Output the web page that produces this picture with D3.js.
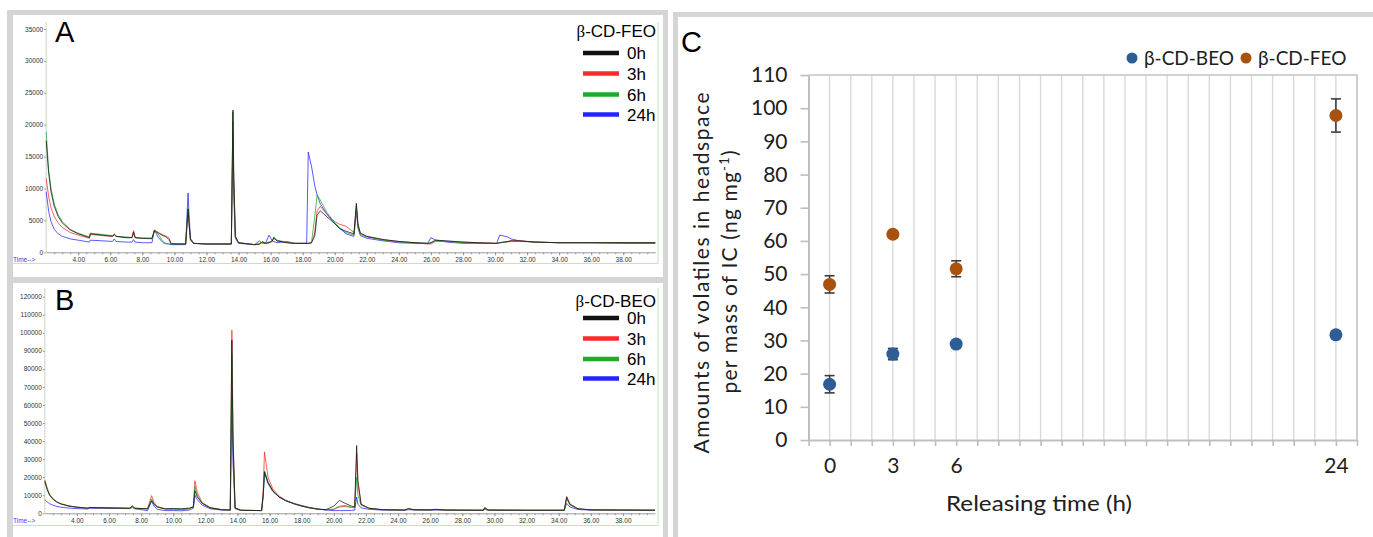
<!DOCTYPE html>
<html lang="en">
  <head>
    <meta charset="utf-8">
    <script type="text/javascript" src="https://d3js.org/d3.v7.min.js"></script>
    <style>
      body { margin: 0; background: #ffffff; }
    </style>
  </head>
  <body>
    <script type="text/javascript">

    // ---- Panel A: beta-CD-FEO headspace chromatograms (time in min, abundance) ----
    var timeA = [2.00, 2.15, 2.30, 2.50, 2.75, 3.00, 3.50, 4.00, 4.70, 4.75,
                 5.50, 6.15, 6.25, 6.35, 7.00, 7.35, 7.45, 7.55, 8.00, 8.60,
                 8.75, 9.00, 9.30, 9.50, 9.65, 9.80, 10.70, 10.85, 10.90, 11.00,
                 11.20, 12.00, 13.55, 13.65, 13.70, 13.80, 14.00, 15.00, 15.30, 15.50,
                 15.70, 15.90, 16.10, 16.20, 16.40, 17.00, 17.50, 18.25, 18.35, 18.55,
                 18.75, 18.90, 19.10, 19.50, 20.00, 20.30, 20.70, 21.20, 21.35, 21.45,
                 21.60, 22.00, 23.00, 24.00, 25.00, 25.80, 26.00, 26.30, 27.00, 28.00,
                 29.00, 30.10, 30.30, 30.80, 31.00, 31.50, 32.50, 34.00, 36.00, 38.00, 40.00];
    var feo0h = [17500, 12500, 9500, 7200, 5600, 4600, 3500, 2900, 2300, 2900,
                 2700, 2500, 2800, 2500, 2300, 2300, 3200, 2300, 2200, 2200,
                 3400, 3000, 2600, 2400, 2000, 1300, 1300, 6800, 5000, 2000,
                 1400, 1300, 1300, 22300, 12000, 2500, 1500, 1200, 1300, 1600,
                 1400, 1500, 1700, 2300, 1800, 1500, 1400, 1400, 1400, 1500,
                 2500, 5800, 6500, 5600, 4500, 3700, 3300, 2900, 7700, 4500,
                 3000, 2500, 2000, 1700, 1500, 1400, 1500, 1900, 1800, 1600,
                 1500, 1400, 1500, 1700, 1800, 1800, 1600, 1500, 1500, 1500, 1500];
    var feo3h = [11600, 8800, 7000, 5600, 4600, 3900, 3100, 2700, 2200, 2800,
                 2600, 2500, 2900, 2500, 2300, 2300, 3400, 2300, 2200, 2200,
                 3500, 3100, 2700, 2500, 2300, 1400, 1300, 6200, 4500, 1900,
                 1400, 1300, 1300, 20500, 11000, 2400, 1500, 1200, 1300, 1600,
                 1400, 1500, 1800, 2200, 1800, 1500, 1400, 1400, 1400, 1500,
                 3000, 6500, 7200, 6000, 4800, 4400, 4100, 3100, 7300, 4200,
                 3000, 2500, 2000, 1700, 1500, 1300, 1300, 1700, 1700, 1600,
                 1500, 1400, 1500, 1700, 1800, 1800, 1600, 1500, 1500, 1500, 1500];
    var feo6h = [18900, 13000, 10000, 7600, 5900, 4800, 3600, 3000, 2400, 3000,
                 2800, 2600, 2800, 2500, 2400, 2300, 2900, 2300, 2200, 2100,
                 3300, 2800, 1600, 1400, 1300, 1300, 1300, 7000, 5200, 2000,
                 1400, 1300, 1300, 22000, 12000, 2500, 1500, 1200, 1300, 1700,
                 1400, 1600, 1800, 2400, 1900, 1600, 1400, 1400, 1400, 1500,
                 5500, 9000, 8200, 6300, 4600, 3900, 3100, 2700, 7000, 4000,
                 2800, 2400, 1900, 1600, 1500, 1400, 1500, 1900, 1700, 1500,
                 1400, 1400, 1500, 1600, 1700, 1700, 1600, 1500, 1500, 1500, 1500];
    var feo24h = [9500, 6500, 4800, 3600, 2900, 2500, 2100, 1900, 1600, 1900,
                  1800, 1700, 2100, 1700, 1600, 1600, 2000, 1600, 1500, 1500,
                  3500, 2300, 1500, 1300, 1300, 1200, 1200, 9300, 6500, 2200,
                  1400, 1300, 1300, 18500, 9000, 2200, 1400, 1200, 1800, 1400,
                  1500, 2700, 1800, 1700, 1500, 1700, 1400, 1400, 15700, 13500,
                  10500, 9000, 7600, 6000, 4500, 3800, 2900, 2500, 6500, 3800,
                  2600, 2200, 1800, 1500, 1400, 1400, 2300, 1900, 1600, 1400,
                  1400, 1400, 2700, 2400, 2100, 1800, 1600, 1500, 1500, 1400, 1400];

    // ---- Panel B: beta-CD-BEO headspace chromatograms ----
    var timeB = [2.00, 2.15, 2.30, 2.50, 2.75, 3.00, 3.50, 4.00, 4.70, 4.75,
                 6.00, 7.30, 7.45, 7.60, 8.40, 8.65, 8.80, 9.00, 9.50, 10.00,
                 10.50, 11.00, 11.25, 11.35, 11.50, 11.80, 12.30, 13.00, 13.55, 13.65,
                 13.72, 13.85, 14.20, 15.50, 15.60, 15.68, 15.90, 16.20, 16.60, 17.00,
                 17.50, 18.00, 18.50, 19.00, 19.50, 20.00, 20.35, 20.70, 21.10, 21.30,
                 21.42, 21.50, 21.70, 22.20, 23.00, 24.40, 24.65, 25.00, 26.00, 26.30,
                 27.00, 29.30, 29.40, 29.60, 32.00, 34.35, 34.50, 34.70, 35.20, 36.00,
                 38.00, 40.00];
    var beo0h = [17500, 13000, 10000, 7800, 6200, 5200, 4000, 3400, 2800, 3200,
                 3000, 2800, 4200, 2800, 2500, 7000, 5000, 3500, 2500, 2700,
                 2400, 2900, 3500, 12500, 9000, 5500, 3000, 2000, 1800, 96000,
                 40000, 3000, 1700, 1500, 10000, 23000, 17000, 12500, 9000, 7000,
                 5300, 4000, 3000, 2300, 2000, 4000, 7200, 5500, 4000, 3600,
                 37500, 18000, 5000, 2800, 2000, 1800, 2600, 2000, 1900, 2200,
                 1800, 1700, 3200, 1800, 1700, 1700, 9000, 5000, 2500, 1900,
                 1800, 1700];
    var beo3h = [18500, 14000, 10500, 8200, 6400, 5300, 4100, 3400, 2800, 3200,
                 3000, 2800, 4000, 2800, 2600, 9800, 6000, 3800, 2300, 2200,
                 2000, 2400, 3800, 18000, 11500, 6000, 3200, 2100, 1800, 101500,
                 45000, 3000, 1700, 1500, 12000, 34000, 20000, 13500, 9500, 7300,
                 5500, 4100, 3000, 2300, 2000, 2200, 3500, 3800, 3200, 3000,
                 33000, 16000, 4800, 2800, 2000, 1800, 2400, 2000, 1900, 2100,
                 1800, 1700, 3000, 1800, 1700, 1700, 9300, 5200, 2500, 1900,
                 1800, 1700];
    var beo6h = [18000, 13500, 10200, 8000, 6300, 5200, 4000, 3400, 2800, 3200,
                 3000, 2800, 3800, 2800, 2400, 8000, 5500, 3500, 2400, 2300,
                 2600, 2700, 3600, 15000, 10000, 5500, 3000, 2000, 1800, 88000,
                 38000, 3000, 1700, 1500, 10000, 23500, 17500, 12500, 9000, 7000,
                 5300, 4000, 3000, 2300, 1900, 2300, 4000, 4300, 3400, 3200,
                 20000, 10000, 4500, 2700, 2000, 1800, 2500, 1900, 1800, 2200,
                 1800, 1700, 2800, 1800, 1700, 1700, 8000, 4600, 2400, 1900,
                 1800, 1700];
    var beo24h = [7500, 6300, 5300, 4500, 3800, 3400, 2900, 2600, 2400, 2800,
                  2700, 2600, 3200, 2500, 1500, 6800, 4000, 2200, 1500, 1500,
                  1400, 1800, 2800, 10000, 7500, 4500, 2500, 1800, 1700, 64000,
                  28000, 2500, 1600, 1500, 9000, 22500, 16500, 12000, 9000, 7000,
                  5500, 4300, 3200, 2400, 1800, 1500, 1500, 1500, 1600, 1800,
                  9000, 5000, 3000, 2200, 1800, 1700, 2000, 1800, 1700, 1800,
                  1700, 1600, 2200, 1700, 1600, 1600, 5500, 3500, 2100, 1800,
                  1700, 1700];

    var sampleTimes = ["0h", "3h", "6h", "24h"];
    var timeTickLabels = [4, 6, 8, 10, 12, 14, 16, 18, 20, 22, 24, 26, 28, 30, 32, 34, 36, 38];
    var yTicksA = [0, 5000, 10000, 15000, 20000, 25000, 30000, 35000];
    var yTicksB = [0, 10000, 20000, 30000, 40000, 50000, 60000, 70000, 80000, 90000, 100000, 110000, 120000];

    // ---- Panel C: amounts of volatiles released (ng/mg) ----
    var releaseHours = [0, 3, 6, 24];
    var beoAmount = [16.8, 25.9, 28.9, 31.7];
    var beoError = [2.6, 1.7, 1.0, 1.0];
    var feoAmount = [46.9, 62.0, 51.6, 97.8];
    var feoError = [2.6, 1.0, 2.4, 5.0];
    var amountTicks = [0, 10, 20, 30, 40, 50, 60, 70, 80, 90, 100, 110];

    var traceColors = ["#111111", "#ff2a2a", "#1faa2a", "#2323ff"];
    var grey = "#d5d5d5";

    var svg = d3.select("body").append("svg")
                .attr("width", 1373)
                .attr("height", 537)
                .style("display", "block");

    // Panel frames
    svg.append("rect").attr("x", 7).attr("y", 10).attr("width", 661).attr("height", 527).attr("fill", grey);
    svg.append("rect").attr("x", 13).attr("y", 15).attr("width", 650).attr("height", 262).attr("fill", "#fff");
    svg.append("rect").attr("x", 13).attr("y", 283).attr("width", 650).attr("height", 254).attr("fill", "#fff");
    svg.append("rect").attr("x", 673).attr("y", 12).attr("width", 700).attr("height", 525).attr("fill", grey);
    svg.append("rect").attr("x", 678).attr("y", 17).attr("width", 695).attr("height", 520).attr("fill", "#fff");

    drawChromatogram({
      time: timeA, series: [feo0h, feo3h, feo6h, feo24h],
      yMax: 35000, yTicks: yTicksA,
      x0: 46.2, x1: 655.3, yTop: 29, yBase: 252.3,
      axisTop: 22, greenY: 263.5, labelY: 261.5,
      letter: "A", letterY: 42, title: "-CD-FEO", titleY: 37,
      rowY: [53, 73.5, 94.5, 114.5]
    });

    drawChromatogram({
      time: timeB, series: [beo0h, beo3h, beo6h, beo24h],
      yMax: 120000, yTicks: yTicksB,
      x0: 44.8, x1: 655, yTop: 296.7, yBase: 513.3,
      axisTop: 288, greenY: 525.5, labelY: 523,
      letter: "B", letterY: 310, title: "-CD-BEO", titleY: 307,
      rowY: [318, 338.5, 359, 378.5]
    });

    drawRelease();

    function drawChromatogram(p) {
      var x = d3.scaleLinear().domain([2, 40]).range([p.x0, p.x1]);
      var y = d3.scaleLinear().domain([0, p.yMax]).range([p.yBase, p.yTop]);
      var g = svg.append("g");

      // light green frame like the instrument printout
      g.append("line").attr("x1", 13).attr("x2", 658).attr("y1", p.greenY).attr("y2", p.greenY)
        .attr("stroke", "#bfe6bf").attr("stroke-width", 1);
      g.append("line").attr("x1", 658).attr("x2", 658).attr("y1", p.axisTop).attr("y2", p.greenY)
        .attr("stroke", "#bfe6bf").attr("stroke-width", 1);
      g.append("line").attr("x1", p.x0).attr("x2", p.x0).attr("y1", p.axisTop).attr("y2", p.yBase)
        .attr("stroke", "#c9d6c9").attr("stroke-width", 1);

      // y axis labels
      var yAxis = d3.axisLeft(y).tickValues(p.yTicks).tickSize(2).tickPadding(1).tickFormat(d3.format("d"));
      var ya = g.append("g").attr("transform", "translate(" + p.x0 + ",0)").call(yAxis)
                .attr("font-size", 6.5).attr("font-family", "Liberation Sans, Arial, sans-serif");
      ya.select(".domain").remove();
      ya.selectAll("line").attr("stroke", "#999");
      ya.selectAll("text").attr("fill", "#333");

      // x axis: minor ticks every half minute, labels every 2 min
      var minor = d3.axisBottom(x).tickValues(d3.range(2.5, 40, 0.5)).tickSize(2).tickFormat("").tickSizeOuter(0);
      var xm = g.append("g").attr("transform", "translate(0," + p.yBase + ")").call(minor);
      xm.select(".domain").attr("stroke", "#9a9a9a");
      xm.selectAll("line").attr("stroke", "#9a9a9a");
      var major = d3.axisBottom(x).tickValues(timeTickLabels).tickSize(3).tickPadding(1.6)
                    .tickFormat(d3.format(".2f")).tickSizeOuter(0);
      var xa = g.append("g").attr("transform", "translate(0," + p.yBase + ")").call(major)
                .attr("font-size", 6.5).attr("font-family", "Liberation Sans, Arial, sans-serif");
      xa.select(".domain").remove();
      xa.selectAll("line").attr("stroke", "#9a9a9a");
      xa.selectAll("text").attr("fill", "#333");

      g.append("text").attr("x", 13).attr("y", p.labelY)
        .attr("font-size", 6.5).attr("font-family", "Liberation Sans, Arial, sans-serif")
        .attr("fill", "#3a3aff").text("Time-->");

      // traces, 24h underneath and 0h on top
      var line = d3.line()
                   .x(function(d, i) { return x(p.time[i]); })
                   .y(function(d) { return y(d); });
      [3, 1, 2, 0].forEach(function(k) {
        g.append("path")
          .datum(p.series[k])
          .attr("d", line)
          .attr("fill", "none")
          .attr("stroke", traceColors[k])
          .attr("stroke-width", 0.75)
          .attr("stroke-linejoin", "round");
      });

      // panel letter
      g.append("text").attr("x", 55).attr("y", p.letterY)
        .attr("font-size", 29).attr("font-family", "Liberation Sans, Arial, sans-serif")
        .attr("fill", "#000").text(p.letter);

      // legend
      var t = g.append("text").attr("x", 656).attr("y", p.titleY)
               .attr("text-anchor", "end").attr("font-size", 17)
               .attr("font-family", "Liberation Sans, Arial, sans-serif").attr("fill", "#000");
      t.append("tspan").attr("font-family", "Liberation Serif, Times New Roman, serif").text("\u03b2");
      t.append("tspan").text(p.title);

      sampleTimes.forEach(function(label, k) {
        g.append("line").attr("x1", 583).attr("x2", 619)
          .attr("y1", p.rowY[k]).attr("y2", p.rowY[k])
          .attr("stroke", traceColors[k]).attr("stroke-width", 4.5);
        g.append("text").attr("x", 627).attr("y", p.rowY[k] + 6)
          .attr("font-size", 17).attr("font-family", "Liberation Sans, Arial, sans-serif")
          .attr("fill", "#000").text(label);
      });
    }

    function drawRelease() {
      var font = "Lato, 'Open Sans', sans-serif";
      var ink = "#202020";
      var x = d3.scaleLinear().domain([-1, 25]).range([808.5, 1357]);
      var y = d3.scaleLinear().domain([0, 110]).range([440, 75]);
      var g = svg.append("g");

      // vertical gridlines at every hour
      g.selectAll(".grid")
        .data(d3.range(0, 25))
        .enter()
        .append("line")
          .attr("class", "grid")
          .attr("x1", function(d) { return x(d); })
          .attr("x2", function(d) { return x(d); })
          .attr("y1", y(110))
          .attr("y2", y(0))
          .attr("stroke", "#d9d9d9")
          .attr("stroke-width", 1.4);

      // top and right border
      g.append("path")
        .attr("d", "M" + x(-1) + "," + y(110) + "H" + x(25) + "V" + y(0))
        .attr("fill", "none").attr("stroke", "#c4c4c4").attr("stroke-width", 1.6);

      // axes
      var xAxis = d3.axisBottom(x)
                    .tickValues(d3.range(-1, 26))
                    .tickSize(6).tickPadding(12).tickSizeOuter(0)
                    .tickFormat(function(d) { return releaseHours.indexOf(d) >= 0 ? d : ""; });
      var xa = g.append("g").attr("transform", "translate(0," + y(0) + ")").call(xAxis)
                .attr("font-size", 21).attr("font-family", font);
      xa.select(".domain").attr("stroke", "#bfbfbf").attr("stroke-width", 2);
      xa.selectAll("line").attr("stroke", "#bfbfbf").attr("stroke-width", 1.6);
      xa.selectAll("text").attr("fill", ink);

      var yAxis = d3.axisLeft(y).tickValues(amountTicks).tickSize(8).tickPadding(13).tickSizeOuter(0);
      var ya = g.append("g").attr("transform", "translate(" + x(-1) + ",0)").call(yAxis)
                .attr("font-size", 21).attr("font-family", font);
      ya.select(".domain").attr("stroke", "#bfbfbf").attr("stroke-width", 2);
      ya.selectAll("line").attr("stroke", "#bfbfbf").attr("stroke-width", 1.6);
      ya.selectAll("text").attr("fill", ink);

      // error bars and points
      var groups = [
        { values: beoAmount, errors: beoError, color: "#2e5d95" },
        { values: feoAmount, errors: feoError, color: "#a9520e" }
      ];
      groups.forEach(function(s) {
        var pts = releaseHours.map(function(h, i) {
          return { h: h, v: s.values[i], e: s.errors[i] };
        });
        var eb = g.append("g").attr("stroke", "#3c3c3c").attr("stroke-width", 1.6);
        eb.selectAll(".stem").data(pts).enter().append("line")
          .attr("x1", function(d) { return x(d.h); }).attr("x2", function(d) { return x(d.h); })
          .attr("y1", function(d) { return y(d.v + d.e); }).attr("y2", function(d) { return y(d.v - d.e); });
        eb.selectAll(".capTop").data(pts).enter().append("line")
          .attr("x1", function(d) { return x(d.h) - 5; }).attr("x2", function(d) { return x(d.h) + 5; })
          .attr("y1", function(d) { return y(d.v + d.e); }).attr("y2", function(d) { return y(d.v + d.e); });
        eb.selectAll(".capBot").data(pts).enter().append("line")
          .attr("x1", function(d) { return x(d.h) - 5; }).attr("x2", function(d) { return x(d.h) + 5; })
          .attr("y1", function(d) { return y(d.v - d.e); }).attr("y2", function(d) { return y(d.v - d.e); });
        g.selectAll(null).data(pts).enter().append("circle")
          .attr("cx", function(d) { return x(d.h); })
          .attr("cy", function(d) { return y(d.v); })
          .attr("r", 6.5)
          .attr("fill", s.color);
      });

      // axis titles
      g.append("text")
        .attr("transform", "translate(709,273) rotate(-90)")
        .attr("text-anchor", "middle")
        .attr("font-size", 21).attr("font-family", font).attr("fill", ink)
        .attr("textLength", 361).attr("lengthAdjust", "spacing")
        .text("Amounts of volatiles in headspace");
      var t2 = g.append("text")
                 .attr("transform", "translate(737,272) rotate(-90)")
                 .attr("text-anchor", "middle")
                 .attr("font-size", 21).attr("font-family", font).attr("fill", ink)
                 .attr("textLength", 243).attr("lengthAdjust", "spacing");
      t2.append("tspan").text("per mass of IC (ng mg");
      t2.append("tspan").attr("font-size", 13).attr("dy", -8).text("-1");
      t2.append("tspan").attr("dy", 8).text(")");

      g.append("text").attr("x", 1039).attr("y", 511)
        .attr("text-anchor", "middle").attr("font-size", 22).attr("font-family", font)
        .attr("textLength", 186).attr("lengthAdjust", "spacingAndGlyphs")
        .attr("fill", ink).text("Releasing time (h)");

      // panel letter
      g.append("text").attr("x", 681).attr("y", 52)
        .attr("font-size", 29).attr("font-family", "Liberation Sans, Arial, sans-serif")
        .attr("fill", "#000").text("C");

      // legend
      var legend = [
        { label: "\u03b2-CD-BEO", color: "#2e5d95", cx: 1132 },
        { label: "\u03b2-CD-FEO", color: "#a9520e", cx: 1246 }
      ];
      legend.forEach(function(l) {
        g.append("circle").attr("cx", l.cx).attr("cy", 58).attr("r", 5.5).attr("fill", l.color);
        g.append("text").attr("x", l.cx + 12).attr("y", 65)
          .attr("font-size", 19).attr("font-family", font).attr("fill", ink).text(l.label);
      });
    }
    </script>
  </body>
</html>
